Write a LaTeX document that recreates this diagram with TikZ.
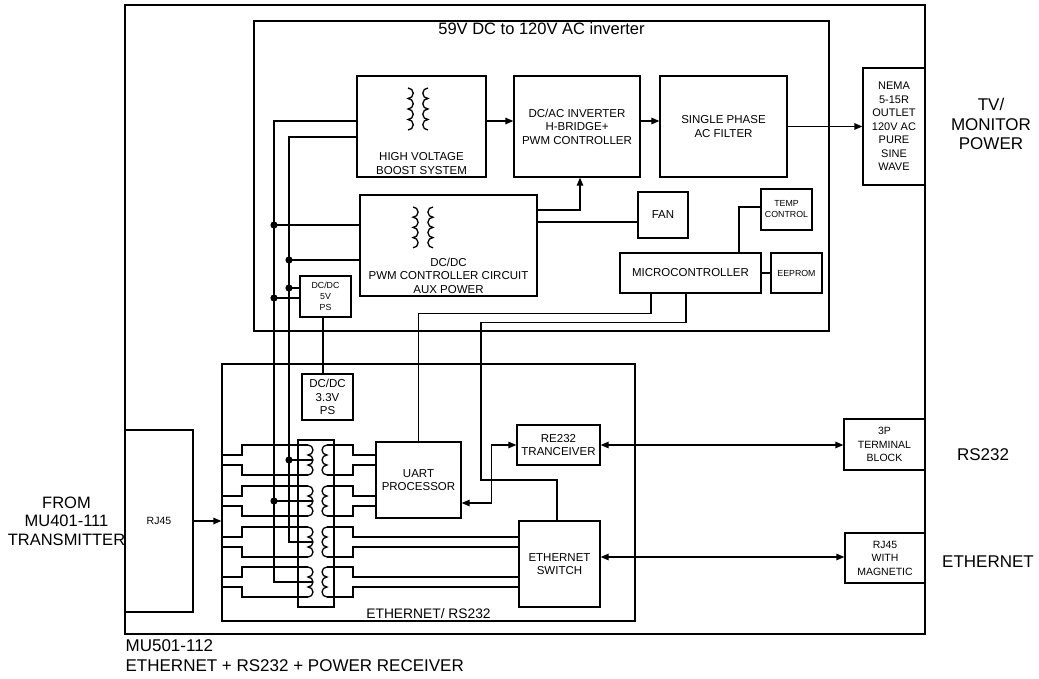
\documentclass[tikz,border=0pt]{standalone}
\usepackage{fontspec}
\setmainfont{Liberation Sans}
\usetikzlibrary{arrows.meta, positioning, calc}

\newcommand{\lblfont}{\fontsize{11.5}{13.6}\selectfont}
\newcommand{\tinyfont}{\fontsize{8.8}{11}\selectfont}
\newcommand{\bigfont}{\fontsize{17}{19.5}\selectfont}
% coil with bumps to the right / to the left: x, top y, bumps, radius
\newcommand{\coilright}[4]{\draw (#1,#2) \foreach \k in {1,...,#3}{arc[start angle=90,end angle=-90,radius=#4pt]};}
\newcommand{\coilleft}[4]{\draw (#1,#2) \foreach \k in {1,...,#3}{arc[start angle=90,end angle=270,radius=#4pt]};}

\begin{document}
\begin{tikzpicture}[x=1pt, y=-1pt, line width=1.3pt,
    blk/.style={draw, inner sep=0pt, align=center, font=\lblfont},
    sml/.style={blk, font=\tinyfont},
    txt/.style={inner sep=0pt, align=center, font=\lblfont},
    arr/.style={-{Triangle[length=8pt,width=6.5pt]}},
    biarr/.style={{Triangle[length=8pt,width=6.5pt]}-{Triangle[length=8pt,width=6.5pt]}}]
  \useasboundingbox (0,0) rectangle (1039,679);

  % Enclosures
  \node[draw, inner sep=0pt, minimum width=800pt, minimum height=629pt] (recv) at (525,319.5) {};
  \node[draw, inner sep=0pt, minimum width=575pt, minimum height=310pt] (inv) at (541.5,176) {};
  \node[draw, inner sep=0pt, minimum width=413pt, minimum height=257pt] (eth) at (428.5,492.5) {};
  \node[inner sep=0pt, font=\fontsize{16.5}{19}\selectfont, anchor=base] (invtitle) at (541.5,35) {59V DC to 120V AC inverter};
  \node[inner sep=0pt, font=\fontsize{13.8}{16}\selectfont, anchor=base] (ethtitle) at (428.5,618) {ETHERNET/ RS232};

  % Inverter blocks
  \node[blk, minimum width=129pt, minimum height=101pt] (hvb) at (421.5,126.5) {};
  \node[txt] (hvbtxt) at (421.5,163.5) {HIGH VOLTAGE\\BOOST SYSTEM};
  \node[blk, minimum width=126pt, minimum height=101pt] (dcac) at (577,126.5) {DC/AC INVERTER\\H-BRIDGE+\\PWM CONTROLLER};
  \node[blk, minimum width=127pt, minimum height=101pt] (filt) at (723.5,126.5) {SINGLE PHASE\\AC FILTER};
  \node[blk, font=\fontsize{11}{13.5}\selectfont, minimum width=62pt, minimum height=117pt] (nema) at (894,126.5) {NEMA\\5-15R\\OUTLET\\120V AC\\PURE\\SINE\\WAVE};
  \node[blk, minimum width=177pt, minimum height=101pt] (pwm) at (448.5,245.5) {};
  \node[txt] (pwmtxt) at (448.5,275.5) {DC/DC\\PWM CONTROLLER CIRCUIT\\AUX POWER};
  \node[blk, minimum width=50pt, minimum height=46pt] (fan) at (663,215) {FAN};
  \node[sml, minimum width=51pt, minimum height=41pt] (temp) at (786.5,209.5) {TEMP\\CONTROL};
  \node[blk, minimum width=141pt, minimum height=40pt] (mcu) at (690.5,273) {MICROCONTROLLER};
  \node[sml, minimum width=51pt, minimum height=40pt] (eeprom) at (796.5,273) {EEPROM};
  \node[sml, minimum width=51pt, minimum height=41pt] (ps5) at (325.5,296.5) {DC/DC\\5V\\PS};

  % Ethernet / RS232 blocks
  \node[blk, minimum width=51pt, minimum height=46pt] (ps33) at (327.5,397) {DC/DC\\3.3V\\PS};
  \node[blk, font=\fontsize{10.5}{13}\selectfont, minimum width=68pt, minimum height=182pt] (rj45) at (159,521) {RJ45};
  \node[draw, inner sep=0pt, minimum width=36pt, minimum height=167pt] (xfmr) at (316,523.5) {};
  \node[blk, minimum width=85pt, minimum height=76pt] (uart) at (418.5,480) {UART\\PROCESSOR};
  \node[blk, minimum width=83pt, minimum height=40pt] (rs) at (558.5,445) {RE232\\TRANCEIVER};
  \node[blk, minimum width=81pt, minimum height=86pt] (esw) at (559.5,564) {ETHERNET\\SWITCH};
  \node[blk, font=\fontsize{10.5}{13.5}\selectfont, minimum width=81pt, minimum height=51pt] (tb) at (884.5,444.5) {3P\\TERMINAL\\BLOCK};
  \node[blk, font=\fontsize{10.5}{13.5}\selectfont, minimum width=80pt, minimum height=50pt] (rjm) at (885,558) {RJ45\\WITH\\MAGNETIC};

  % Outside labels
  \node[txt, font=\bigfont] (tvlbl) at (991,124) {TV/\\MONITOR\\POWER};
  \node[txt, font=\bigfont] (rslbl) at (983,455) {RS232};
  \node[txt, font=\bigfont] (etlbl) at (988,562) {ETHERNET};
  \node[txt, font=\fontsize{16.5}{18.5}\selectfont] (fromlbl) at (66.5,521) {FROM\\MU401-111\\TRANSMITTER};
  \node[inner sep=0pt, font=\bigfont, anchor=base west] (rxname) at (125,651.5) {MU501-112};
  \node[inner sep=0pt, font=\bigfont, anchor=base west] (rxdesc) at (125,671.5) {ETHERNET + RS232 + POWER RECEIVER};

  % Transformer symbols
  \coilright{408}{88}{4}{5.25}
  \coilleft{428}{88}{4}{5.25}
  \coilright{413}{207}{4}{5.1}
  \coilleft{433}{207}{4}{5.1}

  % Ethernet magnetics
  \foreach \ty/\dst in {460/uart,501/uart,542/esw,582/esw}{
    \pgfmathsetmacro\yt{\ty-15}
    \pgfmathsetmacro\yb{\ty+15}
    \pgfmathsetmacro\yu{\ty-5}
    \pgfmathsetmacro\yd{\ty+5}
    \coilright{308}{\yt}{3}{5}
    \coilleft{327}{\yt}{3}{5}
    \draw (eth.west |- 0,\yu) -- (242,\yu) |- (308,\yt);
    \draw (eth.west |- 0,\yd) -- (242,\yd) |- (308,\yb);
    \draw (327,\yt) -| (353,\yu) -- (\dst.west |- 0,\yu);
    \draw (327,\yb) -| (353,\yd) -- (\dst.west |- 0,\yd);
  }

  % Power bus
  \coordinate (jA1) at (274,225);
  \coordinate (jA2) at (274,298);
  \coordinate (jA3) at (274,501);
  \coordinate (jB1) at (289,260);
  \coordinate (jB2) at (289,288);
  \coordinate (jB3) at (289,460);
  \coordinate (tap1) at (313,460);
  \coordinate (tap2) at (313,501);
  \coordinate (tap3) at (313,542);
  \coordinate (tap4) at (313,582);
  \draw ([yshift=5.5pt]hvb.west) -| (274,582) -- (tap4);
  \draw ([yshift=-10.5pt]hvb.west) -| (289,542) -- (tap3);
  \draw (jA1) -- (pwm.west |- jA1);
  \draw (jB1) -- (pwm.west |- jB1);
  \draw (jB2) -- (ps5.west |- jB2);
  \draw (jA2) -- (ps5.west |- jA2);
  \draw (jB3) -- (tap1);
  \draw (jA3) -- (tap2);
  \foreach \j in {jA1,jA2,jA3,jB1,jB2,jB3} \fill (\j) circle (3.6pt);

  % Signal flow
  \draw[arr] ([yshift=5.5pt]hvb.east) -- ([yshift=5.5pt]dcac.west);
  \draw[arr] ([yshift=5.5pt]dcac.east) -- ([yshift=5.5pt]filt.west);
  \draw[arr] (filt.east) -- (nema.west);
  \draw[arr] ([yshift=35.5pt]pwm.east) -| ([xshift=3pt]dcac.south);
  \draw ([yshift=-7pt]fan.west) -- ([yshift=-7pt]fan.west -| pwm.east);
  \draw ([xshift=48.5pt]mcu.north) |- ([yshift=2.5pt]temp.west);
  \draw (mcu.east) -- (eeprom.west);
  \draw ([xshift=-39.5pt]mcu.south) -- ++(0,20) -| (uart.north);
  \draw ([xshift=-4.5pt]mcu.south) -- ++(0,29) -| (481,480) -| ([xshift=-2.5pt]esw.north);
  \draw ([xshift=-2.5pt]ps5.south) -- ([xshift=-2.5pt]ps5.south |- ps33.north);
  \draw[biarr] ([yshift=-23pt]uart.east) -- ++(30,0) |- (rs.west);
  \draw[biarr] (rs.east) -- (rs.east -| tb.west);
  \draw[biarr] ([yshift=7pt]esw.east) -- ([yshift=7pt]esw.east -| rjm.west);
  \draw[arr] (rj45.east) -- (rj45.east -| eth.west);
\end{tikzpicture}
\end{document}
